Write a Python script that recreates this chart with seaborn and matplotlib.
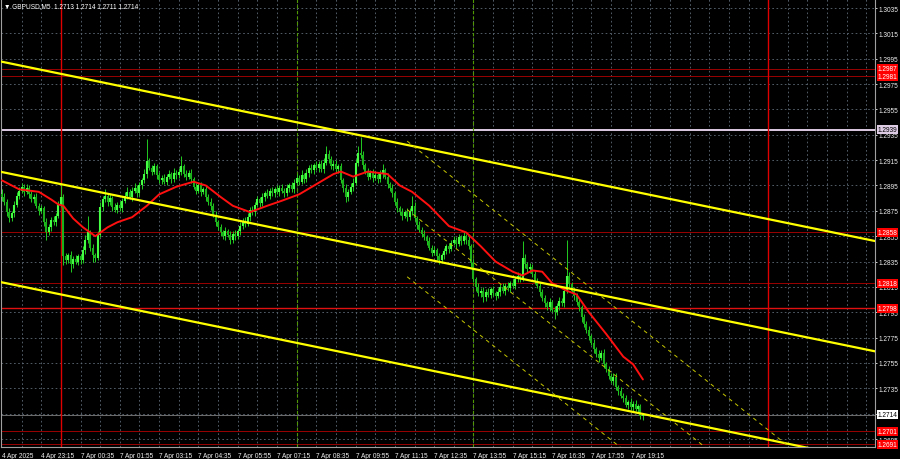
import numpy as np
import pandas as pd
import matplotlib
matplotlib.use("Agg")
import matplotlib.pyplot as plt
import seaborn as sns

# ---- GBPUSD M5 candles (one value per bar) ----
first_open = 1.2888
closes = [
    1.2886, 1.2882, 1.2874, 1.2869, 1.2873, 1.2880, 1.2887, 1.2891,
    1.2894, 1.2890, 1.2893, 1.2888, 1.2884, 1.2886, 1.2879, 1.2875,
    1.2877, 1.2866, 1.2858, 1.2862, 1.2868, 1.2866, 1.2871, 1.2880,
    1.2886, 1.2839, 1.2836, 1.2840, 1.2833, 1.2837, 1.2835, 1.2839,
    1.2836, 1.2844, 1.2852, 1.2858, 1.2846, 1.2840, 1.2838, 1.2856,
    1.2878, 1.2884, 1.2887, 1.2882, 1.2885, 1.2878, 1.2876, 1.2880,
    1.2877, 1.2883, 1.2887, 1.2890, 1.2886, 1.2891, 1.2893, 1.2889,
    1.2895, 1.2899, 1.2904, 1.2914, 1.2909, 1.2906, 1.2910, 1.2903,
    1.2899, 1.2901, 1.2898, 1.2902, 1.2904, 1.2900, 1.2905, 1.2903,
    1.2906, 1.2910, 1.2904, 1.2902, 1.2905, 1.2900, 1.2894, 1.2891,
    1.2895, 1.2890, 1.2892, 1.2886, 1.2882, 1.2879, 1.2872, 1.2866,
    1.2862, 1.2858, 1.2855, 1.2859, 1.2856, 1.2852, 1.2857, 1.2855,
    1.2859, 1.2863, 1.2867, 1.2865, 1.2870, 1.2876, 1.2874, 1.2880,
    1.2884, 1.2881, 1.2886, 1.2889, 1.2887, 1.2891, 1.2889, 1.2892,
    1.2890, 1.2893, 1.2891, 1.2889, 1.2893, 1.2895, 1.2892, 1.2897,
    1.2901, 1.2898, 1.2903, 1.2900, 1.2905, 1.2909, 1.2907, 1.2911,
    1.2909, 1.2912, 1.2908, 1.2913, 1.2920, 1.2916, 1.2910, 1.2912,
    1.2908, 1.2910, 1.2899, 1.2893, 1.2886, 1.2890, 1.2894, 1.2897,
    1.2913, 1.2921, 1.2919, 1.2911, 1.2906, 1.2902, 1.2905, 1.2901,
    1.2903, 1.2900, 1.2904, 1.2907, 1.2902, 1.2896, 1.2893, 1.2889,
    1.2882, 1.2877, 1.2874, 1.2871, 1.2874, 1.2870, 1.2875, 1.2879,
    1.2869, 1.2864, 1.2860, 1.2857, 1.2854, 1.2851, 1.2846, 1.2842,
    1.2844, 1.2839, 1.2836, 1.2840, 1.2843, 1.2847, 1.2845, 1.2850,
    1.2852, 1.2849, 1.2854, 1.2851, 1.2855, 1.2852, 1.2847, 1.2834,
    1.2821, 1.2815, 1.2810, 1.2812, 1.2807, 1.2811, 1.2809, 1.2813,
    1.2810, 1.2808, 1.2811, 1.2815, 1.2812, 1.2816, 1.2814, 1.2818,
    1.2816, 1.2821, 1.2824, 1.2822, 1.2838, 1.2833, 1.2829, 1.2831,
    1.2825, 1.2820, 1.2816, 1.2811, 1.2806, 1.2802, 1.2799, 1.2803,
    1.2797, 1.2795, 1.2800, 1.2804, 1.2802, 1.2812, 1.2824, 1.2817,
    1.2812, 1.2808, 1.2803, 1.2799, 1.2791, 1.2786, 1.2781, 1.2776,
    1.2771, 1.2766, 1.2762, 1.2759, 1.2763, 1.2754, 1.2750, 1.2745,
    1.2741, 1.2744, 1.2736, 1.2733, 1.2729, 1.2727, 1.2722, 1.2724,
    1.2720, 1.2723, 1.2719, 1.2721, 1.2713, 1.2714,
]
# wick lengths above / below the body, in pips
upper_wick = [
    4, 3, 2, 3, 2, 3, 3, 3,   3, 2, 3, 2, 3, 2, 3, 2,
    3, 2, 3, 3, 2, 3, 2, 3,   10, 2, 3, 2, 3, 2, 3, 2,
    2, 3, 4, 13, 2, 3, 2, 3,  4, 3, 5, 2, 3, 2, 3, 2,
    3, 2, 3, 4, 2, 3, 4, 2,   3, 2, 4, 18, 3, 2, 3, 2,
    3, 2, 3, 2, 3, 2, 4, 2,   3, 8, 2, 3, 2, 3, 2, 3,
    2, 3, 2, 3, 2, 3, 2, 3,   2, 3, 2, 3, 2, 3, 2, 3,
    2, 3, 2, 3, 3, 2, 3, 2,   3, 2, 3, 2, 3, 2, 3, 2,
    3, 2, 3, 2, 3, 2, 3, 3,   3, 2, 4, 2, 3, 2, 3, 2,
    3, 2, 3, 4, 6, 3, 2, 3,   3, 2, 3, 2, 3, 2, 3, 4,
    3, 5, 12, 3, 2, 3, 2, 3,  3, 2, 3, 5, 2, 3, 2, 3,
    2, 3, 2, 3, 2, 3, 2, 8,   3, 2, 3, 2, 3, 2, 3, 2,
    3, 2, 3, 2, 3, 2, 3, 2,   3, 2, 3, 2, 3, 2, 3, 2,
    3, 2, 3, 2, 3, 2, 3, 2,   3, 2, 3, 2, 3, 2, 3, 2,
    3, 2, 3, 2, 13, 3, 2, 3,  2, 3, 2, 3, 2, 3, 2, 3,
    2, 3, 2, 3, 2, 3, 28, 3,  2, 3, 2, 3, 2, 3, 2, 3,
    2, 3, 2, 3, 2, 3, 2, 3,   2, 3, 3, 2, 3, 2, 3, 2,
    3, 2, 3, 2, 2, 0,
]
lower_wick = [
    3, 2, 3, 3, 2, 3, 2, 3,   2, 3, 2, 3, 2, 3, 2, 3,
    2, 3, 6, 2, 3, 2, 3, 2,   2, 7, 3, 2, 6, 3, 2, 3,
    3, 2, 3, 2, 3, 5, 3, 2,   2, 3, 2, 3, 2, 3, 2, 3,
    2, 3, 2, 3, 2, 3, 2, 3,   2, 3, 2, 3, 2, 3, 2, 3,
    2, 3, 2, 3, 2, 3, 2, 3,   2, 3, 2, 3, 2, 3, 2, 3,
    2, 3, 2, 3, 2, 3, 2, 3,   2, 3, 2, 3, 2, 3, 2, 3,
    2, 3, 2, 3, 2, 3, 2, 3,   2, 3, 2, 3, 2, 3, 2, 3,
    2, 3, 2, 3, 2, 3, 2, 3,   2, 3, 2, 3, 2, 3, 2, 3,
    2, 3, 2, 3, 2, 3, 2, 3,   2, 3, 2, 3, 4, 3, 2, 3,
    2, 3, 2, 3, 2, 3, 2, 3,   2, 3, 2, 3, 2, 3, 2, 3,
    2, 3, 2, 3, 2, 3, 2, 3,   2, 3, 2, 3, 2, 3, 2, 3,
    2, 3, 3, 2, 3, 2, 3, 2,   2, 3, 2, 3, 2, 3, 2, 3,
    2, 3, 2, 3, 4, 3, 2, 3,   2, 3, 2, 3, 2, 3, 2, 3,
    2, 3, 2, 3, 2, 3, 2, 3,   2, 3, 2, 3, 2, 3, 2, 3,
    2, 5, 2, 3, 2, 3, 2, 3,   2, 3, 2, 3, 4, 3, 2, 3,
    2, 3, 2, 3, 2, 3, 2, 3,   2, 3, 2, 3, 2, 3, 2, 3,
    2, 3, 2, 3, 2, 3,
]

# moving average (red line), read at a few bars
ma_bars = [0, 7, 15, 20, 23, 25, 29, 33, 38, 43, 47, 53, 59, 64, 71, 78, 83, 89, 94, 101,
           108, 114, 121, 128, 135, 138, 143, 149, 157, 162, 167, 174, 182, 189, 195, 201,
           208, 212, 216, 220, 224, 230, 234, 239, 246, 253, 257, 261]
ma_vals = [1.2899, 1.2892, 1.2890, 1.2884, 1.2880, 1.2879, 1.2869, 1.2862, 1.2855, 1.2862,
           1.2866, 1.2870, 1.2879, 1.2888, 1.2894, 1.2898, 1.2895, 1.2886, 1.2879, 1.2874,
           1.2879, 1.2883, 1.2888, 1.2896, 1.2904, 1.2906, 1.2902, 1.2906, 1.2904, 1.2895,
           1.2890, 1.2879, 1.2863, 1.2858, 1.2847, 1.2835, 1.2827, 1.2824, 1.2828, 1.2827,
           1.2818, 1.2812, 1.2809, 1.2795, 1.2778, 1.2760, 1.2754, 1.2742]

# yellow trend channel
chan_bars = [-1, 356]
chan_upper = [1.2993, 1.2851]
chan_mid = [1.2906, 1.2764]
chan_low = [1.2819, 1.2677]
# dashed deviation channel
dev_bars = [165, 356]
dev_upper = [1.2930, 1.2634]
dev_mid = [1.2876, 1.2581]
dev_low = [1.2823, 1.2527]

# horizontal levels
red_levels = [1.2987, 1.2981, 1.2858, 1.2818, 1.2798, 1.2701, 1.2691]
strong_level = 1.2798
pink_level = 1.2939
last_price = 1.2714

# axes labels
price_ticks = [1.3035, 1.3015, 1.2995, 1.2975, 1.2955, 1.2935, 1.2915, 1.2895, 1.2875,
               1.2855, 1.2835, 1.2815, 1.2795, 1.2775, 1.2755, 1.2735, 1.2715, 1.2695]
label_bars = [0, 16, 32, 48, 64, 80, 96, 112, 128, 144, 160, 176, 192, 208, 224, 240, 256]
label_text = ["4 Apr 2025", "4 Apr 23:15", "7 Apr 00:35", "7 Apr 01:55", "7 Apr 03:15",
              "7 Apr 04:35", "7 Apr 05:55", "7 Apr 07:15", "7 Apr 08:35", "7 Apr 09:55",
              "7 Apr 11:15", "7 Apr 12:35", "7 Apr 13:55", "7 Apr 15:15", "7 Apr 16:35",
              "7 Apr 17:55", "7 Apr 19:15"]
day_breaks = [24, 312]
session_marks = [120, 192]
grid_bars = list(range(8, 356, 8))

sns.set_style("dark")
plt.rcParams['font.family'] = ['Liberation Sans', 'DejaVu Sans']
fs = 4.7
txt_col = '#f0f0f0'

df = pd.DataFrame({'close': closes})
df['open'] = [first_open] + closes[:-1]
df['bar'] = np.arange(len(df))
top = df[['open', 'close']].max(axis=1)
bot = df[['open', 'close']].min(axis=1)
df['high'] = top + np.array(upper_wick) * 0.0001
df['low'] = bot - np.array(lower_wick) * 0.0001
df['body_top'] = np.maximum(top, bot + 0.00006)
up = df['close'] >= df['open']

fig = plt.figure(figsize=(9, 4.6), dpi=100, facecolor='black')
ax = fig.add_axes([0.0011, 0.026, 0.9711, 0.974])
ax.set_facecolor('black')
ax.set_xlim(-0.4, 355.5)
ax.set_ylim(1.26887, 1.30421)

# grid
grid_col = '#5f6b78'
for p in price_ticks:
    ax.axhline(p, color=grid_col, lw=0.6, ls=(0, (2, 3)), zorder=0)
for b in grid_bars:
    ax.axvline(b, color=grid_col, lw=0.6, ls=(0, (2, 3)), zorder=0)

# levels and separators
for lv in red_levels:
    if lv == strong_level:
        ax.axhline(lv, color='#e01010', lw=1.0, zorder=1)
    else:
        ax.axhline(lv, color='#9a0000', lw=0.7, zorder=1)
ax.axhline(pink_level, color='#dccbe3', lw=1.4, zorder=1)
ax.axhline(last_price, color='#6e6e6e', lw=0.7, zorder=1)
for b in day_breaks:
    ax.axvline(b, color='#e00000', lw=1.0, zorder=1)
for b in session_marks:
    ax.axvline(b, color='#4f9a00', lw=0.8, ls=(0, (3, 2)), zorder=1)

# candles
ax.vlines(df['bar'], df['low'], df['high'], color='#22cc22', lw=0.7, zorder=3)
ax.vlines(df['bar'][up], bot[up], df['body_top'][up], color='#44ff44', lw=1.5, zorder=4)
ax.vlines(df['bar'][~up], bot[~up], df['body_top'][~up], color='#1cb01c', lw=1.5, zorder=4)

# moving average
sns.lineplot(x=ma_bars, y=ma_vals, ax=ax, color='#ff1010', lw=1.4, zorder=5)

# channels
for line in (chan_upper, chan_mid, chan_low):
    sns.lineplot(x=chan_bars, y=line, ax=ax, color='#ffff00', lw=1.6, zorder=6)
for line in (dev_upper, dev_mid, dev_low):
    ax.plot(dev_bars, line, color='#c8c800', lw=0.7, ls=(0, (4, 4)), zorder=6)

# axes styling
for s in ['left', 'right', 'bottom']:
    ax.spines[s].set_color('#a0a0a0')
    ax.spines[s].set_linewidth(0.8)
ax.spines['top'].set_visible(False)

ax.yaxis.tick_right()
ax.set_yticks(price_ticks)
ax.set_yticklabels([f"{p:.4f}" for p in price_ticks])
ax.tick_params(axis='y', colors=txt_col, labelsize=fs, length=1.5, pad=1, width=0.6)
ax.set_xticks(label_bars)
ax.set_xticklabels(label_text)
ax.tick_params(axis='x', colors=txt_col, labelsize=fs, length=2.5, pad=1, width=0.6)
for t in ax.get_xticklabels():
    t.set_horizontalalignment('left')
ax.set_xlabel('')
ax.set_ylabel('')
ax.grid(False)

# price boxes on the right scale
trans = ax.get_yaxis_transform()
box_kw = dict(transform=trans, fontsize=fs, va='center', ha='left', clip_on=False, zorder=10)
for lv in red_levels:
    ax.text(1.003, lv, f"{lv:.4f}", color='white',
            bbox=dict(boxstyle='square,pad=0.15', fc='#ff0000', ec='none'), **box_kw)
ax.text(1.003, pink_level, f"{pink_level:.4f}", color='black',
        bbox=dict(boxstyle='square,pad=0.15', fc='#dccbe3', ec='none'), **box_kw)
ax.text(1.003, last_price, f"{last_price:.4f}", color='black',
        bbox=dict(boxstyle='square,pad=0.15', fc='white', ec='none'), **box_kw)

fig.text(0.004, 0.994, "\u25bc GBPUSD,M5  1.2713 1.2714 1.2711 1.2714", color='white',
         fontsize=fs, va='top', ha='left', family=['Liberation Sans', 'DejaVu Sans'])

fig.savefig('out.png', dpi=100, facecolor='black')
